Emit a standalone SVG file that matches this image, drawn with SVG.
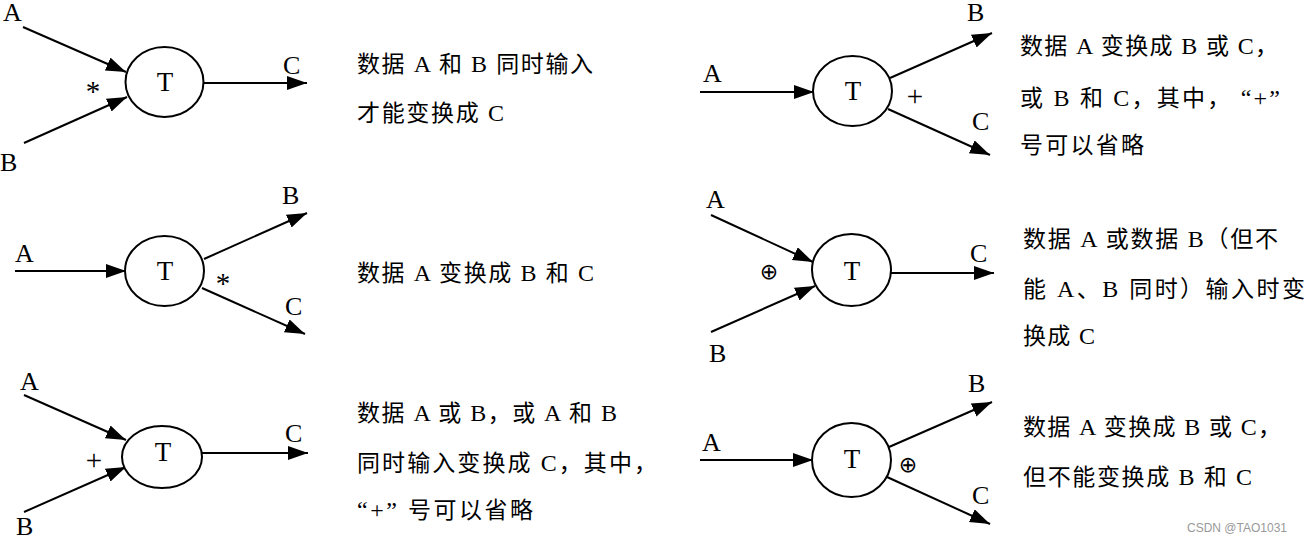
<svg xmlns="http://www.w3.org/2000/svg" width="1305" height="541" viewBox="0 0 1305 541">
<style>
.bg{fill:#fff}
.proc{fill:#fff;stroke:#000;stroke-width:2}
.flow{stroke:#000;stroke-width:2;fill:none;marker-end:url(#ah)}
.lbl{font-family:"Liberation Serif","Times New Roman",serif;font-size:26px;fill:#000}
.t{font-family:"Liberation Serif","Times New Roman",serif;font-size:27px;fill:#000;text-anchor:middle}
.op{font-family:"Liberation Serif","DejaVu Serif",serif;font-size:29px;fill:#000;text-anchor:middle}
.ox{font-family:"DejaVu Sans",sans-serif;font-size:22px;fill:#000;text-anchor:middle}
.desc{font-family:"Noto Sans CJK SC",sans-serif;font-size:23px;fill:#000}
.l{font-family:"Liberation Serif","Times New Roman",serif;font-size:24px}
.wm{font-family:"Liberation Sans",Arial,sans-serif;font-size:12px;fill:#999}
</style>
<defs>
<marker id="ah" markerUnits="userSpaceOnUse" markerWidth="22" markerHeight="16" refX="20" refY="7" orient="auto">
<path d="M0,0 L20,7 L0,14 z" fill="#000"/>
</marker>
</defs>
<rect class="bg" x="0" y="0" width="1305" height="541"/>

<g id="connectors">
<line class="flow" x1="23" y1="27" x2="126" y2="72"/>
<line class="flow" x1="24" y1="143" x2="127" y2="97"/>
<line class="flow" x1="203" y1="83" x2="307" y2="83"/>

<line class="flow" x1="15" y1="271" x2="126" y2="271"/>
<line class="flow" x1="204" y1="259" x2="307" y2="213"/>
<line class="flow" x1="202" y1="288" x2="305" y2="334"/>

<line class="flow" x1="24" y1="395" x2="126" y2="440"/>
<line class="flow" x1="24" y1="512" x2="126" y2="467"/>
<line class="flow" x1="202" y1="453" x2="308" y2="453"/>

<line class="flow" x1="700" y1="92" x2="814" y2="92"/>
<line class="flow" x1="890" y1="78" x2="992" y2="33"/>
<line class="flow" x1="888" y1="109" x2="990" y2="155"/>

<line class="flow" x1="711" y1="215" x2="813" y2="262"/>
<line class="flow" x1="711" y1="332" x2="815" y2="286"/>
<line class="flow" x1="890" y1="273" x2="994" y2="273"/>

<line class="flow" x1="700" y1="460" x2="813" y2="460"/>
<line class="flow" x1="889" y1="447" x2="992" y2="402"/>
<line class="flow" x1="887" y1="477" x2="990" y2="524"/>
</g>

<g id="panel1">
<ellipse class="proc" cx="164.5" cy="82" rx="39" ry="35"/>
<text class="t" x="165" y="91">T</text>
<text class="lbl" x="3" y="21">A</text>
<text class="lbl" x="0" y="171">B</text>
<text class="lbl" x="283" y="74">C</text>
<text class="op" x="93" y="101">*</text>
<text class="desc" x="357" y="72" textLength="236" lengthAdjust="spacing">数据<tspan class="l"> A </tspan>和<tspan class="l"> B </tspan>同时输入</text>
<text class="desc" x="357" y="121" textLength="147" lengthAdjust="spacing">才能变换成<tspan class="l"> C</tspan></text>
</g>

<g id="panel2">
<ellipse class="proc" cx="164.5" cy="271" rx="39.5" ry="35"/>
<text class="t" x="165" y="280">T</text>
<text class="lbl" x="15" y="262">A</text>
<text class="lbl" x="282" y="204">B</text>
<text class="lbl" x="285" y="315">C</text>
<text class="op" x="223" y="293">*</text>
<text class="desc" x="357" y="281" textLength="237" lengthAdjust="spacing">数据<tspan class="l"> A </tspan>变换成<tspan class="l"> B </tspan>和<tspan class="l"> C</tspan></text>
</g>

<g id="panel3">
<ellipse class="proc" cx="162" cy="457" rx="40" ry="31"/>
<text class="t" x="163" y="461">T</text>
<text class="lbl" x="20" y="390">A</text>
<text class="lbl" x="16" y="535">B</text>
<text class="lbl" x="285" y="442">C</text>
<text class="op" x="94" y="470">+</text>
<text class="desc" x="357" y="421" textLength="260" lengthAdjust="spacing">数据<tspan class="l"> A </tspan>或<tspan class="l"> B</tspan>，或<tspan class="l"> A </tspan>和<tspan class="l"> B</tspan></text>
<text class="desc" x="357" y="471" textLength="300" lengthAdjust="spacing">同时输入变换成<tspan class="l"> C</tspan>，其中，</text>
<text class="desc" x="357" y="518" textLength="176" lengthAdjust="spacing"><tspan class="l">“+” </tspan>号可以省略</text>
</g>

<g id="panel4">
<ellipse class="proc" cx="852.5" cy="91" rx="39.5" ry="35"/>
<text class="t" x="853" y="100">T</text>
<text class="lbl" x="703" y="82">A</text>
<text class="lbl" x="967" y="21">B</text>
<text class="lbl" x="972" y="130">C</text>
<text class="op" x="915" y="106">+</text>
<text class="desc" x="1020" y="54" textLength="258" lengthAdjust="spacing">数据<tspan class="l"> A </tspan>变换成<tspan class="l"> B </tspan>或<tspan class="l"> C</tspan>，</text>
<text class="desc" x="1020" y="106" textLength="260" lengthAdjust="spacing">或<tspan class="l"> B </tspan>和<tspan class="l"> C</tspan>，其中，<tspan class="l">  “+”</tspan></text>
<text class="desc" x="1020" y="153" textLength="124" lengthAdjust="spacing">号可以省略</text>
</g>

<g id="panel5">
<ellipse class="proc" cx="851.5" cy="270" rx="39.5" ry="36"/>
<text class="t" x="852" y="280">T</text>
<text class="lbl" x="706" y="208">A</text>
<text class="lbl" x="709" y="362">B</text>
<text class="lbl" x="970" y="262">C</text>
<text class="ox" x="769" y="279">⊕</text>
<text class="desc" x="1023" y="247" textLength="255" lengthAdjust="spacing">数据<tspan class="l"> A </tspan>或数据<tspan class="l"> B</tspan>（但不</text>
<text class="desc" x="1023" y="297" textLength="282" lengthAdjust="spacing">能<tspan class="l"> A</tspan>、<tspan class="l">B </tspan>同时）输入时变</text>
<text class="desc" x="1023" y="344" textLength="72" lengthAdjust="spacing">换成<tspan class="l"> C</tspan></text>
</g>

<g id="panel6">
<ellipse class="proc" cx="851.5" cy="460" rx="39.5" ry="37"/>
<text class="t" x="852" y="468">T</text>
<text class="lbl" x="702" y="451">A</text>
<text class="lbl" x="968" y="392">B</text>
<text class="lbl" x="972" y="504">C</text>
<text class="ox" x="908" y="472">⊕</text>
<text class="desc" x="1023" y="435" textLength="258" lengthAdjust="spacing">数据<tspan class="l"> A </tspan>变换成<tspan class="l"> B </tspan>或<tspan class="l"> C</tspan>，</text>
<text class="desc" x="1023" y="485" textLength="229" lengthAdjust="spacing">但不能变换成<tspan class="l"> B </tspan>和<tspan class="l"> C</tspan></text>
</g>

<text class="wm" x="1187" y="532">CSDN @TAO1031</text>
</svg>
